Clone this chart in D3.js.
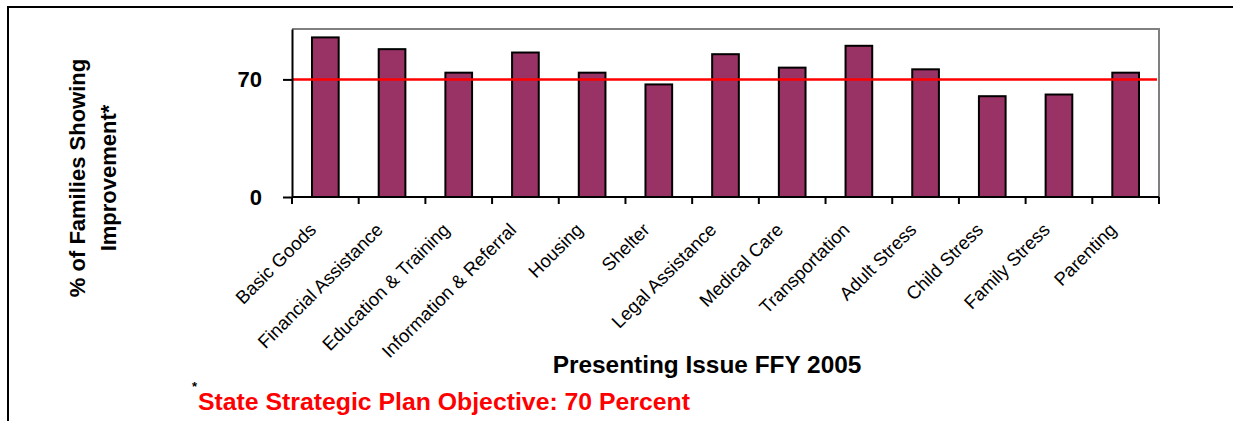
<!DOCTYPE html>
<html>
<head>
<meta charset="utf-8">
<script src="https://cdn.jsdelivr.net/npm/d3@7"></script>
<style>
  html, body { margin: 0; padding: 0; background: #fff; }
  svg { display: block; font-family: "Liberation Sans", Arial, sans-serif; }
</style>
</head>
<body>
<svg id="chart" width="1233" height="421"></svg>
<script>
// Presenting issues and the share of families showing improvement (FFY 2005)
const categories = [
  "Basic Goods", "Financial Assistance", "Education & Training",
  "Information & Referral", "Housing", "Shelter", "Legal Assistance",
  "Medical Care", "Transportation", "Adult Stress", "Child Stress",
  "Family Stress", "Parenting"
];
const improvement = [95, 88, 74, 86, 74, 67, 85, 77, 90, 76, 60, 61, 74];
const yTicks = [0, 70];
const objective = 70;

const svg = d3.select("#chart");
const W = 1233, H = 421;

// outer frame
svg.append("rect")
  .attr("x", 8).attr("y", 7)
  .attr("width", W + 10).attr("height", H + 10)
  .attr("fill", "none").attr("stroke", "#000").attr("stroke-width", 2);

const plot = { left: 292, right: 1159, top: 29, bottom: 197 };

const x = d3.scaleBand()
  .domain(categories)
  .range([plot.left, plot.right])
  .paddingInner(0.6).paddingOuter(0.3);

const y = d3.scaleLinear()
  .domain([0, 100])
  .range([plot.bottom, plot.top]);

// plot area top/right border
svg.append("path")
  .attr("d", `M${plot.left},${plot.top}H${plot.right}V${plot.bottom}`)
  .attr("fill", "none").attr("stroke", "#808080").attr("stroke-width", 2);

// bars
svg.append("g").selectAll("rect")
  .data(categories)
  .join("rect")
  .attr("x", d => x(d))
  .attr("width", x.bandwidth())
  .attr("y", (d, i) => y(improvement[i]))
  .attr("height", (d, i) => y(0) - y(improvement[i]))
  .attr("fill", "#993366")
  .attr("stroke", "#000")
  .attr("stroke-width", 2);

// objective line
svg.append("line")
  .attr("x1", plot.left).attr("x2", plot.right - 2)
  .attr("y1", y(objective)).attr("y2", y(objective))
  .attr("stroke", "#ff0000").attr("stroke-width", 2.5);

// y axis
const yAxis = d3.axisLeft(y).tickValues(yTicks)
  .tickSizeInner(9).tickSizeOuter(0).tickPadding(21)
  .tickFormat(d3.format("d"));
const gy = svg.append("g").attr("transform", `translate(${plot.left},0)`).call(yAxis);
gy.select(".domain").attr("stroke", "#000").attr("stroke-width", 2);
gy.selectAll(".tick line").attr("stroke", "#000").attr("stroke-width", 2);
gy.selectAll(".tick text")
  .attr("font-size", 22).attr("font-weight", "bold").attr("fill", "#000")
  .attr("font-family", "Liberation Sans, Arial, sans-serif");

// x axis: ticks on category boundaries
const boundaries = d3.range(categories.length + 1).map(i => plot.left + i * (plot.right - plot.left) / categories.length);
const gx = svg.append("g");
gx.append("line")
  .attr("x1", plot.left).attr("x2", plot.right)
  .attr("y1", plot.bottom).attr("y2", plot.bottom)
  .attr("stroke", "#000").attr("stroke-width", 2);
gx.selectAll("line.tk")
  .data(boundaries)
  .join("line").attr("class", "tk")
  .attr("x1", d => d).attr("x2", d => d)
  .attr("y1", plot.bottom).attr("y2", plot.bottom + 7)
  .attr("stroke", "#000").attr("stroke-width", 2);

gx.selectAll("text.cat")
  .data(categories)
  .join("text").attr("class", "cat")
  .attr("transform", d => `translate(${x(d) + x.bandwidth() / 2 - 8},${plot.bottom + 34}) rotate(-45)`)
  .attr("text-anchor", "end")
  .attr("font-size", 18.5)
  .attr("fill", "#000")
  .text(d => d);

// axis titles
svg.append("text")
  .attr("transform", "translate(707,373)")
  .attr("text-anchor", "middle")
  .attr("font-size", 24.4).attr("font-weight", "bold")
  .text("Presenting Issue FFY 2005");

const yTitle = svg.append("text")
  .attr("transform", "translate(0,178) rotate(-90)")
  .attr("text-anchor", "middle")
  .attr("font-size", 22).attr("font-weight", "bold");
yTitle.append("tspan").attr("x", 0).attr("y", 85).text("% of Families Showing");
yTitle.append("tspan").attr("x", 0).attr("y", 116).text("Improvement*");

// footnote
svg.append("text")
  .attr("x", 192).attr("y", 391)
  .attr("font-size", 13).attr("font-weight", "bold")
  .text("*");
svg.append("text")
  .attr("x", 198).attr("y", 410)
  .attr("font-size", 24.8).attr("font-weight", "bold").attr("fill", "#ff0000")
  .text("State Strategic Plan Objective: 70 Percent");
</script>
</body>
</html>
